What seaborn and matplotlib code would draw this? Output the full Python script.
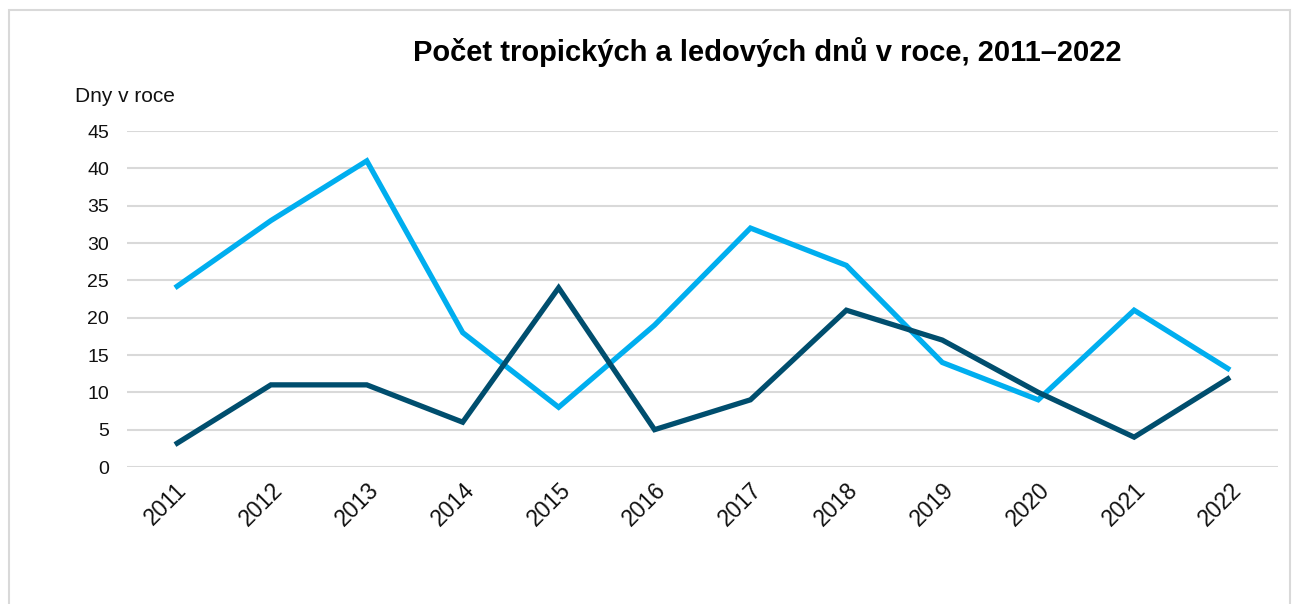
import matplotlib.pyplot as plt
import pandas as pd
import seaborn as sns
from matplotlib.patches import Rectangle

YEARS = ["2011", "2012", "2013", "2014", "2015", "2016",
         "2017", "2018", "2019", "2020", "2021", "2022"]
TROPICAL = [24, 33, 41, 18, 8, 19, 32, 27, 14, 9, 21, 13]
ICE = [3, 11, 11, 6, 24, 5, 9, 21, 17, 10, 4, 12]

SERIES = ["Tropické dny", "Ledové dny"]
COLORS = {"Tropické dny": "#00AEEF", "Ledové dny": "#004E6E"}

sns.set_theme(style="white")
plt.rcParams["font.family"] = ["Liberation Sans", "DejaVu Sans"]

df = pd.concat([
    pd.DataFrame({"rok": YEARS, "dny": TROPICAL, "řada": SERIES[0]}),
    pd.DataFrame({"rok": YEARS, "dny": ICE, "řada": SERIES[1]}),
])

W, H = 1293, 604
fig = plt.figure(figsize=(W / 100, H / 100), dpi=100)
ax = fig.add_axes([127 / W, 1 - 467 / H, (1278 - 127) / W, (467 - 131) / H])

sns.lineplot(
    data=df, x="rok", y="dny", hue="řada", palette=COLORS,
    linewidth=3.8, legend=False, ax=ax, sort=False
)
for line in ax.lines:
    line.set_solid_joinstyle("miter")
    line.set_solid_capstyle("butt")

ax.set_xlim(-0.5, len(YEARS) - 0.5)
ax.set_ylim(0, 45)
ax.set_yticks(range(0, 46, 5))
ax.yaxis.grid(True, color="#D9D9D9", linewidth=1.5)
ax.set_axisbelow(True)
for side in ["left", "right", "top", "bottom"]:
    ax.spines[side].set_visible(False)

ax.tick_params(axis="y", labelsize=14, pad=13, length=0, labelcolor="#111111")
ax.tick_params(axis="x", labelsize=16.5, pad=8, length=0, labelcolor="#111111")
ax.set_xticks(range(len(YEARS)))
ax.set_xticklabels(YEARS, rotation=45, ha="right", rotation_mode="anchor")
ax.set_xlabel("")
ax.set_ylabel("")

fig.text(75 / W, 1 - 97 / H, "Dny v roce", fontsize=15, va="center",
         ha="left", color="#111111")
fig.text(767 / W, 1 - 52 / H, "Počet tropických a ledových dnů v roce, 2011–2022",
         fontsize=21, fontweight="bold", ha="center", va="center",
         color="#000000")

fig.patches.append(Rectangle(
    (9 / W, -0.05), (1290 - 9) / W, 1 - 10 / H + 0.05,
    transform=fig.transFigure, fill=False, edgecolor="#D9D9D9",
    linewidth=1.5
))

fig.savefig("out.png", dpi=100)
plt.close(fig)
